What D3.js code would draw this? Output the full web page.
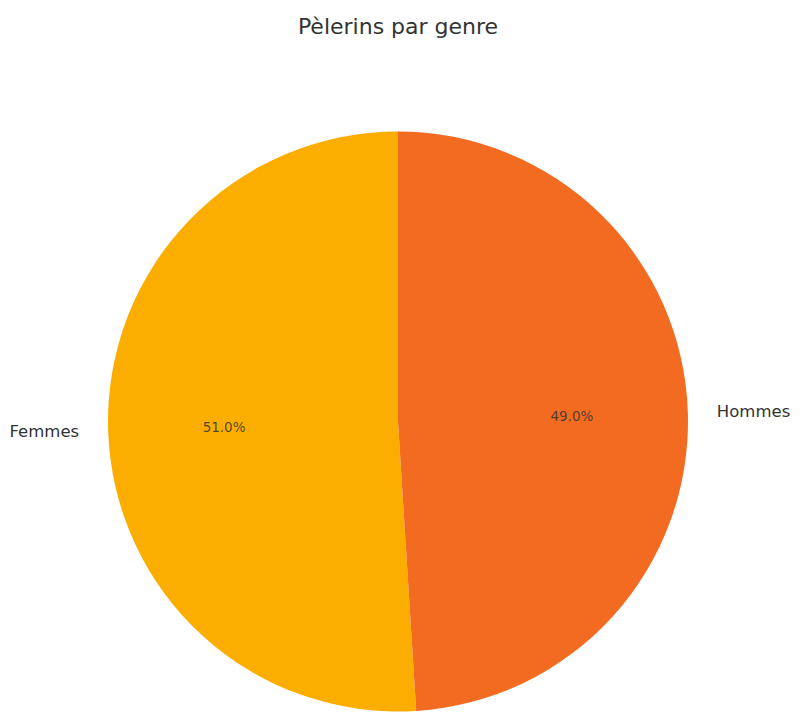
<html>
<head>
	<script src="https://d3js.org/d3.v7.min.js"></script>
	<style>
		body { margin: 0; background: #fff; }
	</style>
</head>
<body>
	<div id="chart"></div>
	<script type="text/javascript">

		var title = "Pèlerins par genre";
		var categories = ["Femmes", "Hommes"];
		var values = [51.0, 49.0];
		var colors = ["#fbae00", "#f26b21"];

		var width = 808, height = 720;
		var cx = 398, cy = 421.5, radius = 290;

		var svg = d3.select('#chart')
			.append('svg')
				.attr('width', width)
				.attr('height', height)
				.style('font-family', 'DejaVu Sans, sans-serif');

		svg.append('text')
			.attr('x', cx)
			.attr('y', 33.5)
			.attr('text-anchor', 'middle')
			.attr('fill', '#333')
			.style('font-size', '22px')
			.text(title);

		var data = categories.map((c, i) => ({name: c, value: values[i], color: colors[i]}));

		// matplotlib: first slice from the top, counter-clockwise
		var total = d3.sum(values);
		var pie = d3.pie()
			.value(d => d.value)
			.sort(null)
			.startAngle(0)
			.endAngle(-2 * Math.PI);

		var arcs = pie(data);
		var arc = d3.arc().innerRadius(0).outerRadius(radius);

		var g = svg.append('g').attr('transform', 'translate(' + cx + ',' + cy + ')');

		g.selectAll('path')
			.data(arcs)
			.enter()
			.append('path')
				.attr('d', arc)
				.attr('fill', d => d.data.color);

		function pos(d, f) {
			var a = (d.startAngle + d.endAngle) / 2;
			return [Math.sin(a) * radius * f, -Math.cos(a) * radius * f];
		}

		g.selectAll('text.lbl')
			.data(arcs)
			.enter()
			.append('text')
				.attr('class', 'lbl')
				.attr('x', d => pos(d, 1.1)[0])
				.attr('y', d => pos(d, 1.1)[1])
				.attr('dy', '0.35em')
				.attr('text-anchor', d => pos(d, 1.1)[0] < 0 ? 'end' : 'start')
				.attr('fill', '#333')
				.style('font-size', '16.5px')
				.text(d => d.data.name);

		g.selectAll('text.pct')
			.data(arcs)
			.enter()
			.append('text')
				.attr('class', 'pct')
				.attr('x', d => pos(d, 0.6)[0])
				.attr('y', d => pos(d, 0.6)[1])
				.attr('dy', '0.35em')
				.attr('text-anchor', 'middle')
				.attr('fill', '#333')
				.attr('fill-opacity', 0.85)
				.style('font-size', '13.5px')
				.text(d => (d.data.value / total * 100).toFixed(1) + '%');
	</script>
</body>
</html>
